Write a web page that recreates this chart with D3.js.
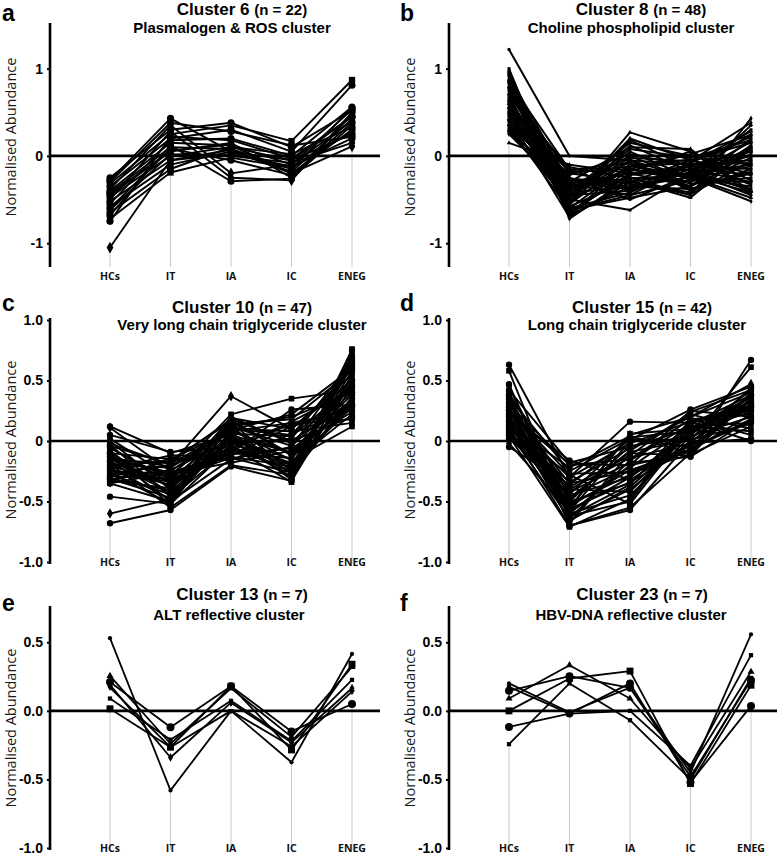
<!DOCTYPE html>
<html><head><meta charset="utf-8">
<script src="https://cdn.jsdelivr.net/npm/d3@7"></script>
<style>body{margin:0;background:#fff} svg{display:block}</style>
</head><body>
<svg id="chart" width="778" height="857"></svg>
<script>
const categories = ["HCs", "IT", "IA", "IC", "ENEG"];
const panelLetters = ["a", "b", "c", "d", "e", "f"];
const clusterNames = ["Cluster 6", "Cluster 8", "Cluster 10", "Cluster 15", "Cluster 13", "Cluster 23"];
const clusterSizes = ["(n = 22)", "(n = 48)", "(n = 47)", "(n = 42)", "(n = 7)", "(n = 7)"];
const clusterSubtitles = ["Plasmalogen & ROS cluster", "Choline phospholipid cluster",
  "Very long chain triglyceride cluster", "Long chain triglyceride cluster",
  "ALT reflective cluster", "HBV-DNA reflective cluster"];
const yLabel = "Normalised Abundance";

const tickValuesTop = [-1, 0, 1];
const tickLabelsTop = ["-1", "0", "1"];
const tickValuesMid = [-1, -0.5, 0, 0.5, 1];
const tickLabelsMid = ["-1.0", "-0.5", "0", "0.5", "1.0"];
const tickValuesBot = [-1, -0.5, 0, 0.5];
const tickLabelsBot = ["-1.0", "-0.5", "0.0", "0.5"];

// each row: [HCs, IT, IA, IC, ENEG]
const cluster6 = [
  [-0.25, 0.30, 0.38, 0.10, 0.52], [-0.28, 0.43, 0.05, -0.05, 0.45], [-0.32, 0.25, 0.35, 0.17, 0.87],
  [-0.35, 0.20, 0.30, 0.05, 0.81], [-0.38, 0.35, -0.20, -0.10, 0.40], [-0.40, 0.15, 0.12, -0.20, 0.30],
  [-0.42, 0.10, 0.08, -0.15, 0.55], [-0.45, 0.05, 0.15, -0.25, 0.35], [-0.47, 0.00, 0.10, -0.05, 0.25],
  [-0.50, 0.28, -0.25, -0.28, 0.48], [-0.52, -0.05, 0.02, -0.12, 0.20], [-0.55, 0.18, 0.20, 0.00, 0.56],
  [-0.58, -0.10, 0.05, -0.18, 0.42], [-0.60, 0.08, -0.05, -0.22, 0.38], [-0.62, 0.02, 0.00, -0.08, 0.15],
  [-0.65, -0.15, 0.10, 0.02, 0.33], [-0.68, 0.12, -0.29, -0.26, 0.50], [-0.72, -0.19, -0.02, -0.14, 0.28],
  [-0.75, 0.22, 0.18, -0.03, 0.45], [-1.05, -0.05, 0.07, -0.20, 0.11], [-0.30, 0.38, 0.28, 0.12, 0.22],
  [-0.44, 0.06, 0.13, -0.10, 0.53]
];
const cluster8 = [
  [1.22, 0.00, -0.05, -0.10, 0.05], [1.00, -0.70, -0.30, -0.20, -0.10], [0.98, -0.65, -0.20, -0.35, 0.20],
  [0.97, -0.55, 0.27, 0.05, -0.40], [0.95, -0.60, -0.10, -0.25, 0.10], [0.93, -0.45, -0.40, -0.15, -0.30],
  [0.90, -0.72, -0.25, -0.45, 0.43], [0.88, -0.50, 0.20, -0.05, -0.20], [0.86, -0.40, -0.15, -0.30, 0.35],
  [0.84, -0.62, -0.45, -0.10, -0.05], [0.82, -0.30, 0.10, 0.08, -0.45], [0.80, -0.68, -0.35, -0.20, 0.25],
  [0.78, -0.55, -0.05, -0.40, -0.15], [0.76, -0.20, -0.30, -0.05, 0.15], [0.74, -0.48, 0.05, -0.25, -0.35],
  [0.72, -0.35, -0.20, -0.12, 0.05], [0.70, -0.66, -0.10, -0.32, -0.25], [0.68, -0.15, -0.40, -0.18, 0.30],
  [0.66, -0.42, 0.15, 0.00, -0.10], [0.64, -0.58, -0.28, -0.48, 0.10], [0.62, -0.25, -0.50, -0.22, -0.42],
  [0.60, -0.52, -0.12, -0.08, 0.22], [0.58, -0.38, 0.00, -0.28, -0.30], [0.56, -0.64, -0.22, -0.15, 0.00],
  [0.55, -0.28, -0.35, -0.38, -0.20], [0.53, -0.45, 0.08, -0.02, 0.18], [0.51, -0.18, -0.15, -0.25, -0.52],
  [0.50, -0.60, -0.42, -0.10, -0.08], [0.48, -0.33, -0.08, -0.35, 0.12], [0.46, -0.50, -0.62, -0.20, -0.38],
  [0.45, -0.22, 0.02, -0.12, -0.15], [0.43, -0.70, -0.30, -0.42, 0.08], [0.41, -0.40, -0.18, 0.05, -0.28],
  [0.40, -0.13, -0.25, -0.30, 0.02], [0.38, -0.56, 0.12, -0.18, -0.45], [0.36, -0.30, -0.38, -0.08, 0.28],
  [0.35, -0.47, -0.05, -0.26, -0.12], [0.33, -0.62, -0.48, -0.35, -0.02], [0.31, -0.20, -0.12, -0.04, -0.33],
  [0.30, -0.36, -0.26, -0.22, 0.16], [0.28, -0.53, 0.18, -0.14, -0.22], [0.26, -0.26, -0.32, -0.44, -0.06],
  [0.25, -0.44, -0.02, -0.06, 0.38], [0.15, -0.10, -0.20, -0.16, -0.40], [0.92, -0.32, -0.45, -0.28, 0.06],
  [0.85, -0.16, -0.08, -0.38, -0.18], [0.65, -0.68, -0.15, 0.02, 0.24], [0.60, -0.42, -0.36, -0.24, -0.48]
];
const cluster10 = [
  [0.12, -0.10, 0.05, -0.10, 0.45], [0.11, -0.25, 0.10, 0.05, 0.60], [0.05, -0.09, -0.05, -0.20, 0.30],
  [0.02, -0.30, 0.22, 0.35, 0.42], [0.00, -0.40, 0.15, -0.25, 0.75], [-0.02, -0.20, 0.37, 0.10, 0.55],
  [-0.05, -0.35, -0.10, 0.26, 0.30], [-0.08, -0.45, 0.00, -0.30, 0.70], [-0.10, -0.15, 0.08, 0.15, 0.25],
  [-0.12, -0.50, -0.15, -0.05, 0.65], [-0.13, -0.28, 0.12, 0.20, 0.40], [-0.15, -0.38, -0.05, -0.34, 0.76],
  [-0.16, -0.18, 0.18, 0.00, 0.20], [-0.18, -0.42, 0.02, -0.15, 0.52], [-0.19, -0.55, -0.20, -0.28, 0.35],
  [-0.20, -0.22, 0.10, 0.08, 0.15], [-0.21, -0.33, -0.08, -0.22, 0.62], [-0.22, -0.48, 0.20, -0.02, 0.48],
  [-0.23, -0.12, -0.12, 0.12, 0.28], [-0.24, -0.36, 0.05, -0.32, 0.72], [-0.25, -0.27, -0.18, -0.08, 0.38],
  [-0.26, -0.52, 0.14, 0.18, 0.58], [-0.27, -0.20, -0.02, -0.18, 0.22], [-0.28, -0.44, 0.06, 0.04, 0.45],
  [-0.29, -0.31, -0.14, -0.26, 0.68], [-0.30, -0.16, 0.16, -0.12, 0.32], [-0.31, -0.47, -0.06, 0.14, 0.18],
  [-0.32, -0.24, 0.01, -0.30, 0.55], [-0.33, -0.39, 0.12, -0.04, 0.40], [-0.34, -0.14, -0.16, 0.06, 0.26],
  [-0.35, -0.50, 0.04, -0.20, 0.64], [-0.35, -0.26, -0.10, -0.14, 0.35], [-0.46, -0.52, -0.05, -0.25, 0.44],
  [-0.60, -0.48, 0.08, -0.10, 0.30], [-0.68, -0.57, -0.21, -0.33, 0.50], [-0.06, -0.32, 0.10, -0.16, 0.12],
  [-0.11, -0.43, -0.03, 0.02, 0.66], [-0.14, -0.21, 0.07, -0.27, 0.36], [-0.17, -0.37, 0.19, 0.10, 0.50],
  [-0.27, -0.29, -0.11, -0.06, 0.24], [-0.03, -0.46, 0.03, -0.23, 0.58], [-0.20, -0.17, -0.07, 0.16, 0.42],
  [-0.09, -0.53, 0.13, -0.31, 0.70], [-0.24, -0.34, -0.01, 0.00, 0.33], [-0.31, -0.41, 0.17, -0.11, 0.47],
  [-0.15, -0.26, -0.13, -0.21, 0.28], [-0.04, -0.19, 0.09, 0.22, 0.60]
];
const cluster15 = [
  [0.63, -0.30, 0.16, 0.15, 0.25], [0.58, -0.65, -0.40, 0.00, 0.61], [0.47, -0.70, -0.55, -0.10, 0.67],
  [0.45, -0.55, 0.05, 0.20, 0.47], [0.42, -0.18, -0.05, 0.10, 0.30], [0.40, -0.45, -0.30, 0.05, 0.42],
  [0.38, -0.60, -0.20, 0.25, 0.20], [0.36, -0.25, 0.02, -0.05, 0.35], [0.35, -0.50, -0.35, 0.12, 0.15],
  [0.33, -0.68, -0.10, -0.12, 0.40], [0.31, -0.40, -0.42, 0.08, 0.28], [0.30, -0.20, -0.15, 0.18, 0.05],
  [0.28, -0.58, 0.00, 0.02, 0.38], [0.27, -0.35, -0.25, -0.08, 0.22], [0.25, -0.62, -0.50, 0.15, 0.32],
  [0.24, -0.48, -0.08, 0.22, 0.10], [0.22, -0.16, -0.32, -0.02, 0.44], [0.21, -0.55, 0.06, 0.10, 0.26],
  [0.20, -0.42, -0.18, -0.13, 0.18], [0.18, -0.66, -0.38, 0.06, 0.36], [0.17, -0.30, -0.02, 0.16, 0.00],
  [0.16, -0.52, -0.28, -0.04, 0.30], [0.15, -0.38, -0.12, 0.24, 0.42], [0.14, -0.60, -0.45, 0.04, 0.20],
  [0.13, -0.22, 0.04, -0.10, 0.34], [0.12, -0.46, -0.22, 0.12, 0.08], [0.11, -0.70, -0.57, 0.00, 0.28],
  [0.10, -0.34, -0.06, 0.20, 0.40], [0.09, -0.56, -0.34, -0.06, 0.16], [0.08, -0.44, 0.03, 0.08, 0.24],
  [0.07, -0.64, -0.16, 0.14, 0.38], [0.06, -0.27, -0.26, -0.11, 0.12], [0.05, -0.50, -0.04, 0.03, 0.30],
  [0.04, -0.71, -0.48, 0.18, 0.22], [0.02, -0.40, -0.14, -0.02, 0.02], [-0.02, -0.58, -0.30, 0.09, 0.33],
  [-0.05, -0.36, 0.01, 0.26, 0.45], [0.32, -0.54, -0.24, -0.07, 0.18], [0.26, -0.28, -0.52, 0.11, 0.36],
  [0.19, -0.47, -0.09, 0.01, 0.14], [0.37, -0.62, -0.36, 0.17, 0.26], [0.23, -0.19, -0.20, -0.09, 0.40]
];
const cluster13 = [
  [0.53, -0.58, 0.00, -0.375, 0.415], [0.015, -0.265, 0.18, -0.285, 0.34], [0.21, -0.12, 0.18, -0.15, 0.05],
  [0.09, -0.21, 0.073, -0.22, 0.226], [0.255, -0.24, 0.165, -0.19, 0.32], [0.19, -0.34, 0.06, -0.23, 0.165],
  [0.17, -0.265, 0.00, -0.26, 0.14]
];
const cluster23 = [
  [0.20, -0.01, 0.17, -0.45, 0.557], [0.175, -0.02, 0.00, -0.40, 0.406], [0.146, 0.253, 0.168, -0.48, 0.224],
  [0.09, 0.333, 0.09, -0.42, 0.285], [0.00, 0.236, 0.29, -0.53, 0.187], [-0.243, 0.20, -0.068, -0.50, 0.24],
  [-0.117, -0.02, 0.20, -0.52, 0.036]
];
const clusterData = [cluster6, cluster8, cluster10, cluster15, cluster13, cluster23];

// ---------- layout & style ----------
const rows = [
  { yDomain: [-1.25, 1.5], yRange: [265, 25], ticks: tickValuesTop, tickLabels: tickLabelsTop,
    letterY: 21, titleY: 15, subY: 33, catY: 280, labelY: 137 },
  { yDomain: [-1, 1], yRange: [562, 320], ticks: tickValuesMid, tickLabels: tickLabelsMid,
    letterY: 311, titleY: 313, subY: 330, catY: 566, labelY: 440 },
  { yDomain: [-1, 0.75], yRange: [848, 608], ticks: tickValuesBot, tickLabels: tickLabelsBot,
    letterY: 611, titleY: 600, subY: 620, catY: 852, labelY: 728 }
];
const cols = [
  { axisX: 50, xRange: [110, 352], zeroEnd: 380, letterX: 2, labelX: 16 },
  { axisX: 449, xRange: [509, 751], zeroEnd: 777, letterX: 400, labelX: 415 }
];
const titleX = [242, 641, 242, 642, 242, 642];
const subX = [232, 631, 242, 637, 229, 631];

const markerCycles = [
  { types: ["circle", "circle", "square", "circle", "diamond"], size: 40 },
  { types: ["circle", "square", "diamond", "triangle"], size: 9 },
  { types: ["circle", "diamond", "circle", "square"], size: 32 },
  { types: ["circle", "square", "circle", "diamond"], size: 32 },
  null, null
];
const markersE = [["circle", 14], ["square", 48], ["circle", 50], ["square", 18], ["triangle", 22], ["diamond", 22], ["triDown", 16]];
const markersF = [["circle", 14], ["square", 18], ["circle", 50], ["triangle", 22], ["square", 48], ["square", 18], ["circle", 50]];
const lineWidths = [1.9, 2, 1.9, 1.9, 1.8, 1.8];

const symTypes = { circle: d3.symbolCircle, square: d3.symbolSquare, diamond: d3.symbolDiamond,
  triangle: d3.symbolTriangle, triDown: d3.symbolTriangle };

function markerFor(p, i) {
  if (p === 4) return markersE[i];
  if (p === 5) return markersF[i];
  const m = markerCycles[p];
  return [m.types[i % m.types.length], m.size];
}

const svg = d3.select("#chart");
const boldFont = "'Liberation Sans', Arial, sans-serif";

clusterData.forEach((data, p) => {
  const row = rows[Math.floor(p / 2)];
  const col = cols[p % 2];
  const g = svg.append("g");

  const x = d3.scalePoint().domain(categories).range(col.xRange);
  const y = d3.scaleLinear().domain(row.yDomain).range(row.yRange);
  const yBottom = row.yRange[0] + 2;

  // drop gridlines
  categories.forEach((c, ci) => {
    const mn = d3.min(data, d => d[ci]);
    g.append("line").attr("x1", x(c)).attr("x2", x(c))
      .attr("y1", y(mn)).attr("y2", yBottom)
      .attr("stroke", "#c9c9c9").attr("stroke-width", 1);
  });

  // y axis
  const axis = d3.axisLeft(y).tickValues(row.ticks)
    .tickFormat((d, i) => row.tickLabels[i]).tickSize(3).tickSizeOuter(0).tickPadding(4);
  const ag = g.append("g").attr("transform", `translate(${col.axisX},0)`).call(axis);
  ag.select(".domain").remove();
  ag.append("line").attr("x1", 0).attr("x2", 0).attr("y1", row.yRange[1] - 2).attr("y2", yBottom)
    .attr("stroke", "#000").attr("stroke-width", 2.6);
  ag.selectAll(".tick line").attr("stroke", "#000").attr("stroke-width", 2);
  ag.selectAll(".tick text").attr("font-family", boldFont).attr("font-weight", "bold")
    .attr("font-size", 14).attr("fill", "#000");

  // zero line
  g.append("line").attr("x1", col.axisX).attr("x2", col.zeroEnd)
    .attr("y1", y(0)).attr("y2", y(0)).attr("stroke", "#000").attr("stroke-width", 2.6);

  // category labels
  g.selectAll("text.cat").data(categories).enter().append("text")
    .attr("x", d => x(d)).attr("y", row.catY).attr("text-anchor", "middle")
    .attr("font-family", "'Open Sans', sans-serif").attr("font-weight", "bold")
    .attr("font-size", 10.5).attr("fill", "#111").text(d => d);

  // lines
  const line = d3.line().x((d, i) => x(categories[i])).y(d => y(d));
  g.selectAll("path.series").data(data).enter().append("path")
    .attr("d", d => line(d)).attr("fill", "none").attr("stroke", "#000")
    .attr("stroke-width", lineWidths[p]).attr("stroke-linejoin", "round");

  // markers
  data.forEach((series, si) => {
    const [type, size] = markerFor(p, si);
    const sym = d3.symbol().type(symTypes[type]).size(size);
    series.forEach((v, ci) => {
      g.append("path").attr("d", sym())
        .attr("transform", `translate(${x(categories[ci])},${y(v)})` + (type === "triDown" ? " rotate(180)" : ""))
        .attr("fill", "#000");
    });
  });

  // y label
  g.append("text").attr("transform", `translate(${col.labelX},${row.labelY}) rotate(-90)`)
    .attr("text-anchor", "middle").attr("font-family", "'Open Sans', sans-serif")
    .attr("font-size", 14.5).attr("fill", "#1a1a1a").text(yLabel);

  // letter
  g.append("text").attr("x", col.letterX).attr("y", row.letterY)
    .attr("font-family", boldFont).attr("font-weight", "bold").attr("font-size", 23)
    .attr("fill", "#000").text(panelLetters[p]);

  // titles
  const t = g.append("text").attr("x", titleX[p]).attr("y", row.titleY).attr("text-anchor", "middle")
    .attr("font-family", boldFont).attr("font-weight", "bold").attr("fill", "#000");
  t.append("tspan").attr("font-size", 17).text(clusterNames[p] + " ");
  t.append("tspan").attr("font-size", 15).text(clusterSizes[p]);
  g.append("text").attr("x", subX[p]).attr("y", row.subY).attr("text-anchor", "middle")
    .attr("font-family", boldFont).attr("font-weight", "bold").attr("font-size", 15)
    .attr("fill", "#000").text(clusterSubtitles[p]);
});
</script>
</body></html>
